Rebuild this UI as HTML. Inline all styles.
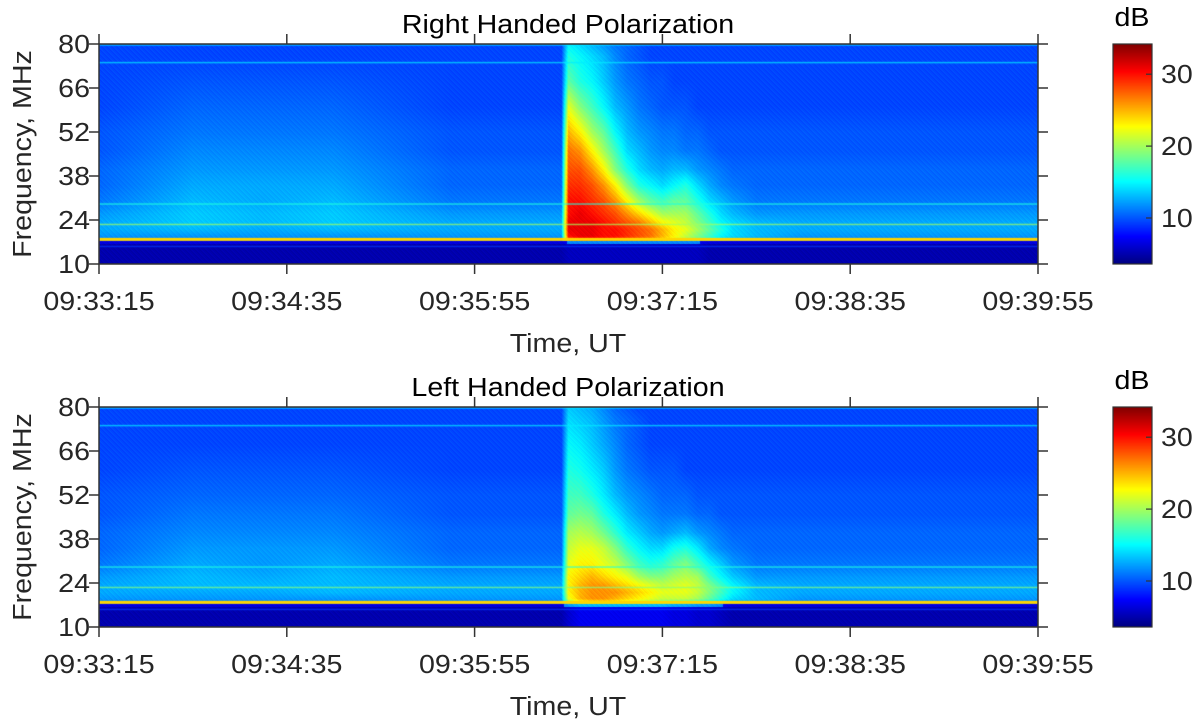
<!DOCTYPE html>
<html><head><meta charset="utf-8">
<style>
html,body{margin:0;padding:0;background:#fff;}
#wrap{position:relative;width:1200px;height:727px;overflow:hidden;background:#fff;font-family:"Liberation Sans",Arial,sans-serif;}
canvas{position:absolute;}
svg{position:absolute;left:0;top:0;}
</style></head>
<body>
<div id="wrap">
<canvas id="cTop" width="939" height="220" style="left:99px;top:44px"></canvas>
<canvas id="cBot" width="939" height="220" style="left:99px;top:407px"></canvas>
<canvas id="cbTop" width="39" height="220" style="left:1113px;top:44px"></canvas>
<canvas id="cbBot" width="39" height="220" style="left:1113px;top:407px"></canvas>
<svg id="ov" width="1200" height="727"></svg>
</div>
<script>
// ---- data ----
const timeTicks = ["09:33:15","09:34:35","09:35:55","09:37:15","09:38:35","09:39:55"];
const timeTickSec = [0,80,160,240,320,400];
const freqTicks = [10,24,38,52,66,80];
const dbTicks = [10,20,30];
const dbMin = 3.6, dbMax = 34.2;
const times = [0,40,70,100,150,190,197,200,205,210,215,220,225,230,235,240,245,250,255,260,265,270,280,300,340,400];
const freqs = [17.5,19,21,23,26,30,35,40,46,52,60,68,76,79.5];
const rightRows = [
[11,11,11,11,11,11,11,28,30,30,30,29,28,27,26,24,22,20,18,16,14,13,12,11,11,11],
[12,12,12,12,12,12,12,30,31,31,30,30,29,28,27,25,23,21,19,17,15,14,13,12,12,12],
[12.5,13,12.5,13,12.5,12.5,12.5,31,31,31,30,30,29,28,27,25,23,22,20,18,16,14,13,12.5,12.5,12.5],
[12.5,13.5,13,13.5,12.5,12.5,12.5,31,31,31,30,29,28,27,25,23,22,21,19,17,15,14,13,12.5,12.5,12.5],
[12,13.5,13,13.5,12,12,12,30,31,30,29,28,26,24,22,20,20,20,18,16,14,13,12,12,12,12],
[11,13,12.5,13,11,11,11,30,30,29,28,26,23,20,18,17,18,18,16,14,13,12,11,11,11,11],
[10.5,12.5,12.5,12.5,10.5,10.5,10.5,29,29,28,26,23,19,16,15,14,15,16,14,12.5,11.5,11,10.5,10.5,10.5,10.5],
[10.5,12,12,12,10.5,10.5,10.5,28,28,26,23,19,16,14,13,12.5,13,13,12,11.5,11,10.5,10.5,10.5,10.5,10.5],
[10,11.5,11.5,11.5,10,10,10,27,26,23,20,17,14,13,12,11.5,11.5,11,11,10.5,10,10,10,10,10,10],
[10,11,11,11,10,10,10,25,23,20,18,15,13,12,11.5,11,11,10.5,10.5,10,10,10,10,10,10,10],
[9.5,10.5,10.5,10.5,9.5,9.5,9.5,22,19,17,15,13,12,11,10.5,10,10,10,9.5,9.5,9.5,9.5,9.5,9.5,9.5,9.5],
[9.5,10,10,10,9.5,9.5,9.5,18,16,15,13.5,12,11,10.5,10,10,9.5,9.5,9.5,9.5,9.5,9.5,9.5,9.5,9.5,9.5],
[9.5,9.5,9.5,9.5,9.5,9.5,9.5,16,15,14,13,11.5,10.5,10,9.5,9.5,9.5,9.5,9.5,9.5,9.5,9.5,9.5,9.5,9.5,9.5],
[9.5,9.5,9.5,9.5,9.5,9.5,9.5,15,14,13,12,11,10.5,10,9.5,9.5,9.5,9.5,9.5,9.5,9.5,9.5,9.5,9.5,9.5,9.5]
];
const leftRows = [
[11,11,11,11,11,11,11,18,21,22,22,22,21,20,19,18,17,16,15,14,13,12.5,12,11,11,11],
[12,12,12,12,12,12,12,22,25,26,26,25,24,23,22,21,21,21,20,18,16,14,13,12,12,12],
[12.5,12.5,12.5,13,12.5,12.5,12.5,23,25,26,26,26,25,24,23,22,22,22,21,19,17,15,13,12.5,12.5,12.5],
[12.5,13,13,13,12.5,12.5,12.5,23,25,26,26,25,24,23,22,21,21.5,22,21,19,17,15,13,12.5,12.5,12.5],
[12,13,12.5,13,12,12,12,23,24,25,24,23,22,20,19,19,20,20.5,20,17,15,13.5,12,12,12,12],
[11,12.5,12,12.5,11,11,11,22,23,23,22,21,19,17,16,16.5,18,19,17,15,13.5,12,11,11,11,11],
[10.5,12,12,12,10.5,10.5,10.5,21,22,22,21,19,16.5,15,14,14,15.5,16,14.5,12.5,11.5,11,10.5,10.5,10.5,10.5],
[10.5,11.5,11.5,11.5,10.5,10.5,10.5,20,20.5,20,18.5,16.5,14.5,13.5,12.5,12,12.5,13,12,11.5,11,10.5,10.5,10.5,10.5,10.5],
[10,11,11,11,10,10,10,18,18.5,18,16,14.5,13,12,11.5,11,11,11,10.5,10.5,10,10,10,10,10,10],
[10,10.5,10.5,10.5,10,10,10,17,17,16,14.5,13,12,11.5,11,10.5,10.5,10.5,10,10,10,10,10,10,10,10],
[9.5,10,10,10,9.5,9.5,9.5,16,15.5,14.5,13.5,12,11,10.5,10,10,10,9.5,9.5,9.5,9.5,9.5,9.5,9.5,9.5,9.5],
[9.5,9.5,9.5,9.5,9.5,9.5,9.5,15,14.5,13.5,12.5,11.5,10.5,10,9.5,9.5,9.5,9.5,9.5,9.5,9.5,9.5,9.5,9.5,9.5,9.5],
[9.5,9.5,9.5,9.5,9.5,9.5,9.5,14,13.5,13,12,11,10.5,10,9.5,9.5,9.5,9.5,9.5,9.5,9.5,9.5,9.5,9.5,9.5,9.5],
[9.5,9.5,9.5,9.5,9.5,9.5,9.5,13.5,13,12.5,11.5,10.5,10,9.5,9.5,9.5,9.5,9.5,9.5,9.5,9.5,9.5,9.5,9.5,9.5,9.5]
];
const darkBandRight = [5,5,5,5,5,5,5,5.5,5.5,5.5,5.5,5.5,5.5,5.5,5.5,5.5,5.5,5.5,5.5,5,5,5,5,5,5,5];
const darkBandLeft  = [5,5,5,5,5,5,5,6,7,7,7,7,7,7,7,7,6.5,6.5,6,6,5.5,5,5,5,5,5];
const lineFreqs = [18,22.5,29,74,79.6,15.5];
const lineValsRight = [24,20,16,14.5,14,9];
const lineValsLeft  = [24,19,16,14.5,14,9];

// ---- helpers ----
const X0=99, W=939, H=220;
function xOf(t){return X0 + t/400*W;}
function yOfF(f,top){return top + H - (f-10)/70*H;}
function jet(v){
  let x=(v-dbMin)/(dbMax-dbMin); x=Math.max(0,Math.min(1,x));
  const c=a=>Math.max(0,Math.min(1,a));
  return [c(1.5-Math.abs(4*x-3))*255, c(1.5-Math.abs(4*x-2))*255, c(1.5-Math.abs(4*x-1))*255];
}
function interp(xs, x){
  if(x<=xs[0]) return [0,0];
  for(let i=0;i<xs.length-1;i++){ if(x<=xs[i+1]) return [i,(x-xs[i])/(xs[i+1]-xs[i])]; }
  return [xs.length-2,1];
}
function drawSpec(id, rows, dark, lvals){
  const cv=document.getElementById(id), ctx=cv.getContext('2d');
  const img=ctx.createImageData(W,H), d=img.data;
  for(let px=0;px<W;px++){
    const t=(px+0.5)/W*400;
    const [ti,tf]=interp(times,t);
    for(let py=0;py<H;py++){
      const f=10+(H-py-0.5)/H*70;
      let v;
      if(f<17.3){ v=dark[ti]*(1-tf)+dark[ti+1]*tf; if(f>16.3) v+= (v>5.4? 6:1.5); }
      else{
        const [fi,ff]=interp(freqs,f);
        const a=rows[fi][ti]*(1-tf)+rows[fi][ti+1]*tf;
        const b=rows[fi+1][ti]*(1-tf)+rows[fi+1][ti+1]*tf;
        v=a*(1-ff)+b*ff;
      }
      v += ((px*7+py*13)%5-2)*0.3;
      const c=jet(v), k=(py*W+px)*4;
      d[k]=c[0];d[k+1]=c[1];d[k+2]=c[2];d[k+3]=255;
    }
  }
  ctx.putImageData(img,0,0);
  for(let i=0;i<lineFreqs.length;i++){
    const y=H-(lineFreqs[i]-10)/70*H;
    const c=jet(lvals[i]);
    ctx.fillStyle='rgb('+c.map(Math.round).join(',')+')';
    ctx.globalAlpha = i===0?1:0.7;
    ctx.fillRect(0,y-1,W,i===0?3:1.5);
  }
  ctx.globalAlpha=1;
}
function drawCb(id){
  const cv=document.getElementById(id), ctx=cv.getContext('2d');
  for(let py=0;py<H;py++){
    const v=dbMax-(py+0.5)/H*(dbMax-dbMin);
    const c=jet(v);
    ctx.fillStyle='rgb('+c.map(Math.round).join(',')+')';
    ctx.fillRect(0,py,39,1);
  }
}
drawSpec('cTop',rightRows,darkBandRight,lineValsRight);
drawSpec('cBot',leftRows,darkBandLeft,lineValsLeft);
drawCb('cbTop'); drawCb('cbBot');

// ---- axes overlay ----
const svg=document.getElementById('ov'), NS='http://www.w3.org/2000/svg';
const FS=26, SX=1.1;
function el(tag,attrs,txt){const e=document.createElementNS(NS,tag);for(const k in attrs)e.setAttribute(k,attrs[k]);if(txt!==undefined)e.textContent=txt;svg.appendChild(e);return e;}
function txt(x,y,s,anchor,extra){
  return el('text',{x:0,y:0,'font-size':FS,'text-anchor':anchor,fill:'#262626',transform:'translate('+x+','+y+') '+(extra||'')+' scale('+SX+',1)'},s);
}
function panel(top,title,pfx){
  const g=el('rect',{x:X0,y:top,width:W,height:H,fill:'none',stroke:'#333','stroke-width':1.5});
  
  
  timeTickSec.forEach((s,i)=>{
    const x=xOf(s);
    const t1=el('line',{x1:x,x2:x,y1:top-10,y2:top,stroke:'#333','stroke-width':1.5});
    
    
    const t2=el('line',{x1:x,x2:x,y1:top+H,y2:top+H+10,stroke:'#333','stroke-width':1.5});
    
    
    const lb=txt(x,top+H+46,timeTicks[i],'middle');
    
    
  });
  freqTicks.forEach(f=>{
    const y=yOfF(f,top);
    const t1=el('line',{x1:X0-10,x2:X0,y1:y,y2:y,stroke:'#333','stroke-width':1.5});
    
    
    const t2=el('line',{x1:X0+W,x2:X0+W+10,y1:y,y2:y,stroke:'#333','stroke-width':1.5});
    
    
    const lb=txt(X0-9,y+9,String(f),'end');
    
    
  });
  const tt=txt(568,top-11,title,'middle');
  tt.setAttribute('fill','#000');
  
  
  const xt=txt(568,top+H+88,'Time, UT','middle');
  
  
  const yt=el('text',{x:0,y:0,'font-size':FS,'text-anchor':'middle',fill:'#262626',transform:'translate(31,'+(top+H/2)+') rotate(-90) scale('+SX+',1)'},'Frequency, MHz');
  
  
  const cb=el('rect',{x:1113,y:top,width:39,height:H,fill:'none',stroke:'#333','stroke-width':1.2});
  
  
  dbTicks.forEach(v=>{
    const y=top+(dbMax-v)/(dbMax-dbMin)*H;
    const tk=el('line',{x1:1146,x2:1152,y1:y,y2:y,stroke:'#333','stroke-width':1.2});
    
    
    const lb=txt(1161,y+9,String(v),'start');
    
    
  });
  const db=txt(1132,top-18,'dB','middle');
  db.setAttribute('fill','#000');
  
  
}
panel(44,'Right Handed Polarization','right');
panel(407,'Left Handed Polarization','left');
</script>
</body></html>
